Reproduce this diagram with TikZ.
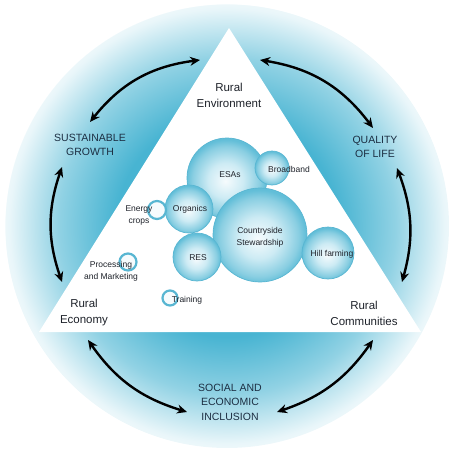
\documentclass[tikz,border=0pt]{standalone}
\usepackage{fontspec}
\setmainfont{Liberation Sans}
\usetikzlibrary{arrows.meta}
\definecolor{ringblue}{RGB}{72,180,210}
\definecolor{bubout}{RGB}{98,190,216}
\definecolor{bubmid}{RGB}{205,235,244}
\definecolor{bubin}{RGB}{246,251,253}
\definecolor{bubline}{RGB}{88,182,210}
\definecolor{txt}{RGB}{30,34,42}
\definecolor{capc}{RGB}{28,46,66}
\pgfdeclareradialshading{ringshade}{\pgfpoint{0bp}{0bp}}{color(0bp)=(ringblue); color(12.5bp)=(ringblue); color(19bp)=(ringblue!60!white); color(24.5bp)=(ringblue!12!white); color(25bp)=(ringblue!10!white); color(25.01bp)=(white); color(50bp)=(white)}
\pgfdeclareradialshading{bubshade}{\pgfpoint{-1bp}{-2bp}}{color(0bp)=(bubin); color(11bp)=(bubmid); color(21bp)=(bubout!75!white); color(25bp)=(bubout); color(50bp)=(bubout)}
\begin{document}
\begin{tikzpicture}[x=1pt,y=1pt,
  lbl/.style={font=\fontsize{11.5}{16}\selectfont, text=txt, align=center},
  caplbl/.style={font=\fontsize{10.5}{14.5}\selectfont, text=capc, align=center},
  btxt/.style={font=\fontsize{8.5}{12}\selectfont, text=txt, align=center},
  bub/.style={circle, draw=bubline, line width=0.7pt, shading=bubshade, inner sep=0pt, minimum size=#1},
  ringbub/.style={circle, draw=bubline, line width=2.2pt, fill=bubin, inner sep=0pt, minimum size=#1},
  conn/.style={{Stealth[length=10pt,width=9pt]}-{Stealth[length=10pt,width=9pt]}, line width=2.4pt, black}]
\useasboundingbox (0,0) rectangle (451,-450);
% background disc
\path[shading=ringshade] (227,-226) circle (222);
% triangle
\coordinate (tA) at (229,-28);
\coordinate (tB) at (39,-332);
\coordinate (tC) at (421,-332);
\fill[white] (tA) -- (tB) -- (tC) -- cycle;
% bubbles
\node[bub=80pt] (esa) at (227,-178) {};
\node[bub=94pt] (cs) at (260,-235) {};
\node[bub=48pt] (org) at (189,-209) {};
\node[bub=48pt] (res) at (197,-257) {};
\node[bub=34pt] (bb) at (272,-168) {};
\node[bub=52pt] (hf) at (328,-253) {};
\node[ringbub=18pt] (en) at (157,-210) {};
\node[ringbub=17pt] (pm) at (128,-262) {};
\node[ringbub=15pt] (tr) at (170,-298) {};
% bubble texts
\node[btxt] at (230,-175) {ESAs};
\node[btxt] at (289,-169) {Broadband};
\node[btxt] at (260,-237) {Countryside\\Stewardship};
\node[btxt] at (190,-209) {Organics};
\node[btxt] at (139,-215) {Energy\\crops};
\node[btxt] at (198,-258) {RES};
\node[btxt] at (332,-254) {Hill farming};
\node[btxt] at (111,-271) {Processing\\and Marketing};
\node[btxt] at (187,-300) {Training};
% labels
\node[lbl] (env) at (229,-95) {Rural\\Environment};
\node[lbl] (eco) at (84,-313) {Rural\\Economy};
\node[lbl] (com) at (364,-313) {Rural\\Communities};
\node[caplbl] (sg) at (90,-145) {SUSTAINABLE\\GROWTH};
\node[caplbl] (ql) at (375,-147) {QUALITY\\OF LIFE};
\node[caplbl] (se) at (230,-402) {SOCIAL AND\\ECONOMIC\\INCLUSION};
% arrow end points
\coordinate (a1) at (90,-122);
\coordinate (a2) at (200,-60);
\coordinate (b1) at (260,-60);
\coordinate (b2) at (373,-128);
\coordinate (c1) at (397,-168);
\coordinate (c2) at (402,-282);
\coordinate (d1) at (373,-340);
\coordinate (d2) at (277,-412);
\coordinate (e1) at (187,-412);
\coordinate (e2) at (88,-340);
\coordinate (f1) at (62,-282);
\coordinate (f2) at (62,-167);
\draw[conn] (a1) to[bend left=22] (a2);
\draw[conn] (b1) to[bend left=22] (b2);
\draw[conn] (c1) to[bend left=18] (c2);
\draw[conn] (d1) to[bend left=18] (d2);
\draw[conn] (e1) to[bend left=19] (e2);
\draw[conn] (f1) to[bend left=19] (f2);
\end{tikzpicture}
\end{document}
